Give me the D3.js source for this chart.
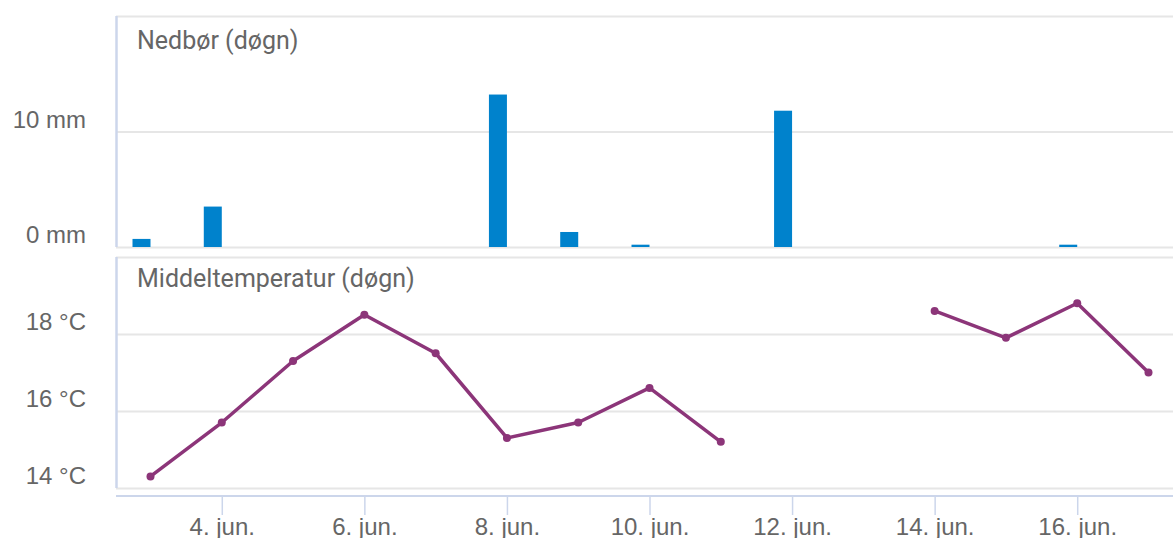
<!DOCTYPE html>
<html>
<head>
<meta charset="utf-8">
<script src="https://cdn.jsdelivr.net/npm/d3@7"></script>
<style>
  body { margin: 0; background: #fff; }
  svg { font-family: Roboto, "Noto Sans", sans-serif; }
</style>
</head>
<body>
<div id="chart"></div>
<script>
// days of June, precipitation (mm) and mean temperature (°C)
var days = [3, 4, 5, 6, 7, 8, 9, 10, 11, 12, 13, 14, 15, 16, 17]
var precip = [0.7, 3.5, 0, 0, 0, 13.2, 1.3, 0.2, 0, 11.8, 0, 0, 0, 0.2, 0]
var temps = [14.3, 15.7, 17.3, 18.5, 17.5, 15.3, 15.7, 16.6, 15.2, null, null, 18.6, 17.9, 18.8, 17.0]

var tickDays = [4, 6, 8, 10, 12, 14, 16]
var tickLabels = ["4. jun.", "6. jun.", "8. jun.", "10. jun.", "12. jun.", "14. jun.", "16. jun."]

var precipTicks = [0, 10, 20]
var tempTicks = [14, 16, 18, 20]

var width = 1173, height = 538
var left = 116, right = 1173

function day(d) { return new Date(2024, 5, d) }

var svg = d3.select("#chart")
    .append("svg")
    .attr("width", width)
    .attr("height", height)

var x = d3.scaleTime()
    .domain([day(3), day(17)])
    .range([150.5, 1148.5])

// ---- top panel: precipitation
var yP = d3.scaleLinear()
    .domain([0, 20])
    .range([247, 16])

// ---- bottom panel: temperature
var yT = d3.scaleLinear()
    .domain([14, 20])
    .range([488, 257])

function yAxis(g, scale, ticks, unit) {
    g.attr("transform", "translate(" + left + ",0)")
        .call(d3.axisLeft(scale)
            .tickValues(ticks)
            .tickSize(-(right - left))
            .tickPadding(30)
            .tickFormat(function(d) { return d === ticks[ticks.length - 1] ? "" : d + unit }))
    g.select(".domain").remove()
    g.selectAll(".tick line").attr("stroke", "#e6e6e6").attr("stroke-width", 2)
    g.selectAll(".tick text")
        .attr("fill", "#666")
        .attr("font-size", 24)
        .attr("dy", -4.5)
}

svg.append("g").call(yAxis, yP, precipTicks, " mm")
svg.append("g").call(yAxis, yT, tempTicks, " °C")

// left axis lines
svg.append("line")
    .attr("x1", left + 0.5).attr("x2", left + 0.5)
    .attr("y1", yP(20)).attr("y2", yP(0))
    .attr("stroke", "#ccd6eb").attr("stroke-width", 2.5)

svg.append("line")
    .attr("x1", left + 0.5).attr("x2", left + 0.5)
    .attr("y1", yT(20)).attr("y2", yT(14))
    .attr("stroke", "#ccd6eb").attr("stroke-width", 2.5)

// panel titles
svg.append("text")
    .attr("x", 137).attr("y", 49)
    .attr("fill", "#666").attr("font-size", 25)
    .text("Nedbør (døgn)")

svg.append("text")
    .attr("x", 137).attr("y", 287)
    .attr("fill", "#666").attr("font-size", 25)
    .text("Middeltemperatur (døgn)")

// bars
var barW = 18
svg.append("g")
    .selectAll("rect")
    .data(days.map(function(d, i) { return {d: day(d), v: precip[i]} }).filter(function(p) { return p.v > 0 }))
    .join("rect")
    .attr("x", function(p) { return x(p.d) - barW })
    .attr("width", barW)
    .attr("y", function(p) { return yP(p.v) })
    .attr("height", function(p) { return yP(0) - yP(p.v) })
    .attr("fill", "#0082cc")

// temperature line
var tData = days.map(function(d, i) { return {d: day(d), t: temps[i]} })

svg.append("path")
    .datum(tData)
    .attr("fill", "none")
    .attr("stroke", "#8c3579")
    .attr("stroke-width", 3.5)
    .attr("stroke-linejoin", "round")
    .attr("d", d3.line()
        .defined(function(p) { return p.t != null })
        .x(function(p) { return x(p.d) })
        .y(function(p) { return yT(p.t) }))

svg.append("g")
    .selectAll("circle")
    .data(tData.filter(function(p) { return p.t != null }))
    .join("circle")
    .attr("cx", function(p) { return x(p.d) })
    .attr("cy", function(p) { return yT(p.t) })
    .attr("r", 4)
    .attr("fill", "#8c3579")

// x axis
var xg = svg.append("g")
    .attr("transform", "translate(0,496)")
    .call(d3.axisBottom(x)
        .tickValues(tickDays.map(day))
        .tickSize(19)
        .tickPadding(3)
        .tickFormat(function(d, i) { return tickLabels[i] }))
xg.select(".domain").remove()
xg.selectAll(".tick line").attr("stroke", "#ccd6eb").attr("stroke-width", 1.5)
xg.selectAll(".tick text").attr("fill", "#666").attr("font-size", 24).attr("dy", "0.71em")

svg.append("line")
    .attr("x1", left).attr("x2", right)
    .attr("y1", 496).attr("y2", 496)
    .attr("stroke", "#ccd6eb").attr("stroke-width", 2)
</script>
</body>
</html>
